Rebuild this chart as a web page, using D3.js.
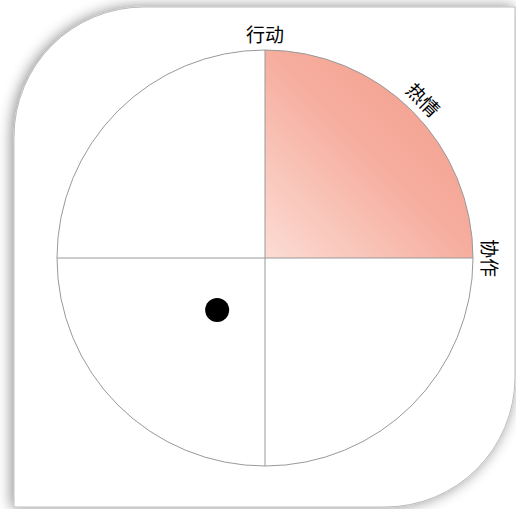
<!DOCTYPE html>
<html>
<head>
<meta charset="utf-8">
<script src="https://cdn.jsdelivr.net/npm/d3@7"></script>
<style>
  html, body { margin: 0; padding: 0; background: #fff; }
  svg { display: block; }
</style>
</head>
<body>
<div id="chart"></div>
<script>
const width = 516;
const height = 509;

// axis labels, clockwise from the top (degrees)
const labels = ['行动', '热情', '协作'];
const labelAngles = [0, 45, 90];

// quadrants: start/end angle in degrees, filled or not
const quadrantStarts = [0, 90, 180, 270];
const quadrantFilled = [true, false, false, false];

// the dot, in the chart's own -1..1 coordinates
const dotX = [-0.23];
const dotY = [-0.25];

const center = { x: 265, y: 258 };
const radius = 208;

const svg = d3.select('#chart')
    .append('svg')
    .attr('width', width)
    .attr('height', height);

const defs = svg.append('defs');

const shadow = defs.append('filter')
    .attr('id', 'shadow')
    .attr('x', '-10%').attr('y', '-10%')
    .attr('width', '120%').attr('height', '120%');
shadow.append('feDropShadow')
    .attr('dx', -2).attr('dy', 0)
    .attr('stdDeviation', 7)
    .attr('flood-color', '#000')
    .attr('flood-opacity', 0.45);

const grad = defs.append('linearGradient')
    .attr('id', 'warm')
    .attr('x1', 0).attr('y1', 1)
    .attr('x2', 1).attr('y2', 0);
grad.append('stop').attr('offset', '0%').attr('stop-color', '#fcdcd4');
grad.append('stop').attr('offset', '50%').attr('stop-color', '#f6ae9f');
grad.append('stop').attr('offset', '100%').attr('stop-color', '#f39a88');

// card with two rounded corners
const card = { x0: 14, y0: 7, x1: 515, y1: 507, r: 130 };
const cardPath = d3.path();
cardPath.moveTo(card.x0, card.y0 + card.r);
cardPath.arcTo(card.x0, card.y0, card.x0 + card.r, card.y0, card.r);
cardPath.lineTo(card.x1, card.y0);
cardPath.lineTo(card.x1, card.y1 - card.r);
cardPath.arcTo(card.x1, card.y1, card.x1 - card.r, card.y1, card.r);
cardPath.lineTo(card.x0, card.y1);
cardPath.closePath();

svg.append('path')
    .attr('d', cardPath.toString())
    .attr('fill', '#fff')
    .attr('stroke', '#bdbdbd')
    .attr('stroke-width', 1)
    .attr('filter', 'url(#shadow)');

const g = svg.append('g')
    .attr('transform', `translate(${center.x},${center.y})`);

const x = d3.scaleLinear().domain([-1, 1]).range([-radius, radius]);
const y = d3.scaleLinear().domain([-1, 1]).range([radius, -radius]);
const toRad = d => d * Math.PI / 180;

const arc = d3.arc().innerRadius(0).outerRadius(radius);

// quadrants
g.selectAll('.quadrant')
    .data(quadrantStarts.map((s, i) => ({ start: s, filled: quadrantFilled[i] })))
    .enter()
    .append('path')
    .attr('class', 'quadrant')
    .attr('d', d => arc({ startAngle: toRad(d.start), endAngle: toRad(d.start + 90) }))
    .attr('fill', d => d.filled ? 'url(#warm)' : 'none');

// outline
g.append('circle')
    .attr('r', radius)
    .attr('fill', 'none')
    .attr('stroke', '#999')
    .attr('stroke-width', 1);

// cross lines
g.append('line')
    .attr('x1', x(-1)).attr('x2', x(1))
    .attr('y1', y(0)).attr('y2', y(0))
    .attr('stroke', '#999');
g.append('line')
    .attr('x1', x(0)).attr('x2', x(0))
    .attr('y1', y(-1)).attr('y2', y(1))
    .attr('stroke', '#999');

// labels around the rim
const labelR = radius + 17;
g.selectAll('.rim-label')
    .data(labels.map((t, i) => ({ text: t, angle: labelAngles[i] })))
    .enter()
    .append('text')
    .attr('class', 'rim-label')
    .attr('transform', d => `rotate(${d.angle}) translate(0,${-labelR})`)
    .attr('text-anchor', 'middle')
    .attr('dominant-baseline', 'central')
    .attr('fill', '#000')
    .style('font', '19px "Noto Sans CJK SC", sans-serif')
    .text(d => d.text);

// the dot
g.selectAll('.dot')
    .data(dotX.map((v, i) => ({ x: v, y: dotY[i] })))
    .enter()
    .append('circle')
    .attr('class', 'dot')
    .attr('cx', d => x(d.x))
    .attr('cy', d => y(d.y))
    .attr('r', 12)
    .attr('fill', '#000');
</script>
</body>
</html>
